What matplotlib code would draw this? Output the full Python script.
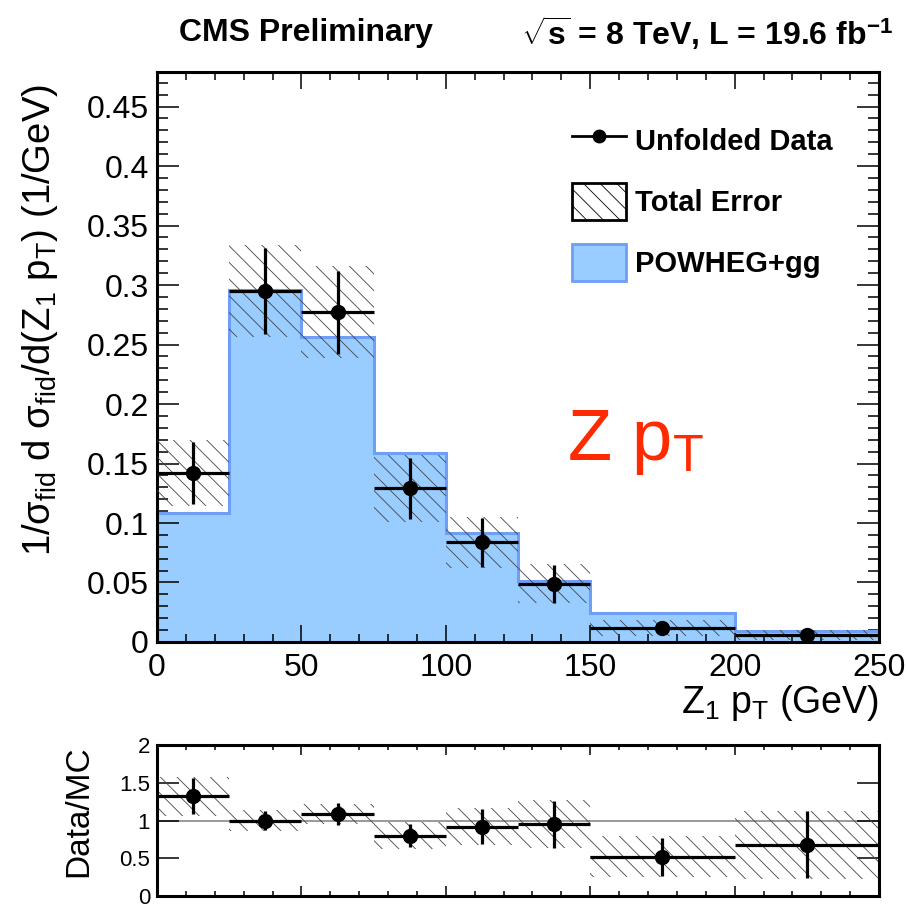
import matplotlib
matplotlib.use("Agg")
import matplotlib.pyplot as plt
from matplotlib.lines import Line2D
from matplotlib.patches import Patch
from matplotlib.ticker import MultipleLocator
import numpy as np

# Z1 pT bins (GeV)
edges = [0, 25, 50, 75, 100, 125, 150, 200, 250]
# POWHEG+gg prediction
mc = [0.108, 0.296, 0.256, 0.159, 0.092, 0.0515, 0.024, 0.0092]
# unfolded data
data = [0.142, 0.295, 0.277, 0.129, 0.084, 0.049, 0.012, 0.006]
data_err = [0.026, 0.036, 0.035, 0.0255, 0.0206, 0.016, 0.004, 0.003]
tot_err = [0.028, 0.039, 0.0386, 0.028, 0.0214, 0.0164, 0.0068, 0.0042]
# ratio panel
ratio = [1.32, 1.00, 1.09, 0.80, 0.92, 0.95, 0.52, 0.68]
ratio_err = [0.24, 0.127, 0.145, 0.155, 0.23, 0.31, 0.25, 0.44]
ratio_tot = [0.26, 0.145, 0.13, 0.175, 0.24, 0.32, 0.27, 0.45]

plt.rcParams['font.family'] = ['Liberation Sans', 'DejaVu Sans']
plt.rcParams['mathtext.fontset'] = 'custom'
plt.rcParams['mathtext.rm'] = 'Liberation Sans'
plt.rcParams['mathtext.it'] = 'Liberation Sans:italic'
plt.rcParams['mathtext.bf'] = 'Liberation Sans:bold'
plt.rcParams['hatch.linewidth'] = 0.6

edges = np.array(edges)
centers = (edges[:-1] + edges[1:]) / 2
halfw = (edges[1:] - edges[:-1]) / 2
widths = edges[1:] - edges[:-1]
hatch = '\\\\'

fig = plt.figure(figsize=(9.08, 9.06), dpi=100)
ax = fig.add_axes([0.1729, 0.2914, 0.7952, 0.6291])
rax = fig.add_axes([0.1729, 0.0110, 0.7952, 0.1667])

blue = '#99ccff'
blue_edge = '#6f9ef5'

# main panel
ax.stairs(mc, edges, fill=True, color=blue, zorder=1)
ax.stairs(mc, edges, color=blue_edge, lw=2.2, zorder=2)
ax.bar(edges[:-1], 2 * np.array(tot_err), bottom=np.array(data) - np.array(tot_err),
       width=widths, align='edge', facecolor='none', edgecolor='#444444',
       linewidth=0, hatch=hatch, zorder=3)
ax.errorbar(centers, data, xerr=halfw, yerr=data_err, fmt='o', color='black',
            ms=10, elinewidth=2.3, capsize=0, zorder=4)

ax.set_xlim(0, 250)
ax.set_ylim(0, 0.479)
ax.xaxis.set_major_locator(MultipleLocator(50))
ax.xaxis.set_minor_locator(MultipleLocator(10))
ax.yaxis.set_major_locator(MultipleLocator(0.05))
ax.yaxis.set_minor_locator(MultipleLocator(0.01))
ax.yaxis.set_major_formatter(plt.FuncFormatter(lambda v, p: ('%g' % round(v, 3))))
ax.tick_params(axis='both', which='both', direction='in', top=True, right=True,
               width=1.1, labelsize=23)
ax.tick_params(axis='y', which='major', length=16, pad=6)
ax.tick_params(axis='y', which='minor', length=8)
ax.tick_params(axis='x', which='major', length=12, pad=8)
ax.tick_params(axis='x', which='minor', length=6)
for s in ax.spines.values():
    s.set_linewidth(2.2)

ax.set_xlabel(r'$\mathregular{Z_1\ p_T}$ (GeV)', fontsize=27, ha='right', x=1.0,
              labelpad=0)
fig.text(0.044, 1 - 84 / 906,
         r'$\mathregular{1/\sigma_{fid}\ d\ \sigma_{fid}/d(Z_1\ p_T)}$ (1/GeV)',
         rotation=90, ha='center', va='top', fontsize=27.5)

ax.text(0.568, 0.32, r'$\mathregular{Z\ p_T}$', transform=ax.transAxes,
        color='#ff2a00', fontsize=52)

fig.text(306 / 908, 1 - 33 / 906, 'CMS Preliminary', ha='center', va='center',
         fontsize=23, fontweight='bold')
fig.text(893 / 908, 1 - 33 / 906,
         r'$\mathbf{\sqrt{s}}$ = 8 TeV, L = 19.6 fb$^{\mathbf{-1}}$',
         ha='right', va='center', fontsize=23, fontweight='bold')

handles = [Line2D([], [], color='black', marker='o', ms=9, lw=2),
           Patch(facecolor='white', edgecolor='black', hatch=hatch, lw=2),
           Patch(facecolor=blue, edgecolor=blue_edge, lw=2)]
labels = ['Unfolded Data', 'Total Error', 'POWHEG+gg']
leg = ax.legend(handles, labels, loc='upper left',
                bbox_to_anchor=(572 / 908, 1 - 122 / 906),
                bbox_transform=fig.transFigure, frameon=False,
                prop={'weight': 'bold', 'size': 21}, borderpad=0,
                handlelength=1.85, handleheight=1.6, handletextpad=0.3,
                labelspacing=0.8, borderaxespad=0)

# ratio panel
rax.axhline(1, color='#888888', lw=1.2, zorder=1)
rax.bar(edges[:-1], 2 * np.array(ratio_tot), bottom=np.array(ratio) - np.array(ratio_tot),
        width=widths, align='edge', facecolor='none', edgecolor='#444444',
        linewidth=0, hatch=hatch, zorder=2)
rax.errorbar(centers, ratio, xerr=halfw, yerr=ratio_err, fmt='o', color='black',
             ms=10, elinewidth=2.3, capsize=0, zorder=3)
rax.set_xlim(0, 250)
rax.set_ylim(0, 2)
rax.xaxis.set_major_locator(MultipleLocator(50))
rax.xaxis.set_minor_locator(MultipleLocator(10))
rax.yaxis.set_major_locator(MultipleLocator(0.5))
rax.yaxis.set_major_formatter(plt.FuncFormatter(lambda v, p: '%g' % v))
rax.tick_params(axis='both', which='both', direction='in', top=True, right=True,
                width=1.1)
rax.tick_params(axis='x', labelbottom=False, which='major', length=7)
rax.tick_params(axis='x', which='minor', length=3.5)
rax.tick_params(axis='y', which='major', length=16, labelsize=16, pad=5)
for s in rax.spines.values():
    s.set_linewidth(2.2)
fig.text(79 / 908, 1 - 811 / 906, 'Data/MC', rotation=90, ha='center',
         va='center', fontsize=24)

fig.savefig('out.png', dpi=100)
